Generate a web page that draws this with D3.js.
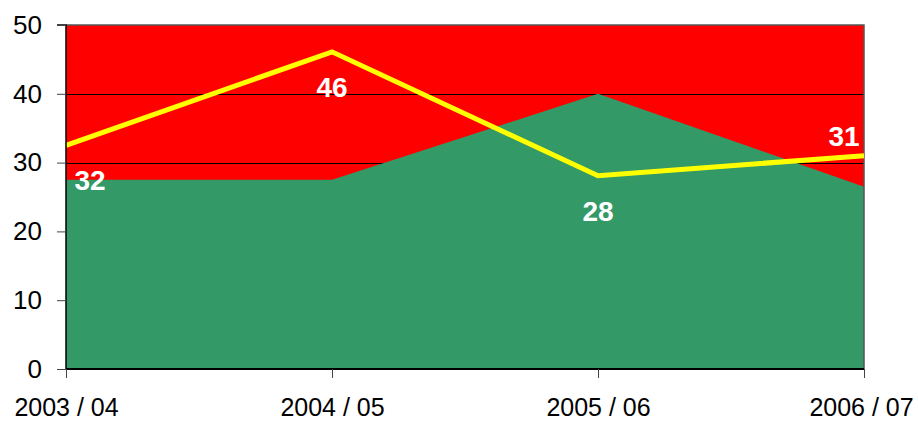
<!DOCTYPE html>
<html><head><meta charset="utf-8">
<script src="https://cdn.jsdelivr.net/npm/d3@7"></script>
<style>html,body{margin:0;padding:0;background:#fff;}svg{display:block;font-family:Arial,"Liberation Sans",sans-serif;}</style>
</head><body>
<svg id="chart" width="918" height="421"></svg>
<script>
const categories = ["2003 / 04", "2004 / 05", "2005 / 06", "2006 / 07"];
const greenValues = [27.5, 27.5, 40, 26.5];
const lineValues = [32.5, 46.1, 28.1, 31];
const lineLabels = ["32", "46", "28", "31"];
const yTicks = [0, 10, 20, 30, 40, 50];

const svg = d3.select("#chart");
const m = {left: 66, right: 54, top: 25, bottom: 52};
const W = 918, H = 421;
const x = d3.scalePoint().domain(categories).range([m.left, W - m.right]);
const y = d3.scaleLinear().domain([0, 50]).range([H - m.bottom, m.top]);

// plot background (red)
svg.append("rect").attr("x", x.range()[0]).attr("y", y(50))
  .attr("width", x.range()[1] - x.range()[0]).attr("height", y(0) - y(50))
  .attr("fill", "#FF0000");

// gridlines
svg.append("g").selectAll("line").data(yTicks.filter(d => d > 0 && d < 50)).join("line")
  .attr("x1", x.range()[0]).attr("x2", x.range()[1])
  .attr("y1", d => Math.round(y(d)) + 0.5).attr("y2", d => Math.round(y(d)) + 0.5)
  .attr("stroke", "#000").attr("stroke-width", 1);

// green area
const area = d3.area().x((d, i) => x(categories[i])).y0(y(0)).y1(d => y(d));
svg.append("path").datum(greenValues).attr("d", area).attr("fill", "#339966");

// border top/right
svg.append("path")
  .attr("d", `M${x.range()[0]},${y(50)}H${x.range()[1]}V${y(0)}`)
  .attr("fill", "none").attr("stroke", "#555").attr("stroke-width", 1.5);

// yellow line
const line = d3.line().x((d, i) => x(categories[i])).y(d => y(d));
svg.append("path").datum(lineValues).attr("d", line)
  .attr("fill", "none").attr("stroke", "#FFFF00").attr("stroke-width", 5)
  .attr("stroke-linejoin", "miter");

// axes
const yAxis = d3.axisLeft(y).tickValues(yTicks).tickSize(9).tickPadding(15);
const gy = svg.append("g").attr("transform", `translate(${x.range()[0]},0)`).call(yAxis);
gy.select(".domain").attr("stroke", "#000").attr("stroke-width", 1.5).attr("d", `M-9,${y(50)}H0V${y(0)}`);
gy.selectAll(".tick line").attr("stroke", "#444");
gy.selectAll("text").attr("font-size", 26).attr("fill", "#000").attr("font-family", "Arial, 'Liberation Sans', sans-serif");

const xAxis = d3.axisBottom(x).tickSize(9).tickPadding(20);
const gx = svg.append("g").attr("transform", `translate(0,${y(0)})`).call(xAxis);
gx.select(".domain").attr("stroke", "#000").attr("stroke-width", 2).attr("d", `M${x.range()[0]},0H${x.range()[1]}`);
gx.selectAll(".tick line").attr("stroke", "#444");
gx.selectAll("text").attr("font-size", 25).attr("fill", "#000").attr("font-family", "Arial, 'Liberation Sans', sans-serif")
  .attr("dx", (d, i, n) => i === n.length - 1 ? -3 : 0);

// data labels
const xr = x.range();
svg.append("g").selectAll("text").data(lineValues).join("text")
  .attr("x", (d, i) => Math.min(Math.max(x(categories[i]), xr[0] + 24), xr[1] - 20))
  .attr("y", (d, i) => i < 3 ? y(d) + 45 : y(d) - 10)
  .attr("text-anchor", "middle")
  .attr("font-size", 28).attr("font-weight", "bold").attr("fill", "#fff")
  .text((d, i) => lineLabels[i]);
</script>
</body></html>
